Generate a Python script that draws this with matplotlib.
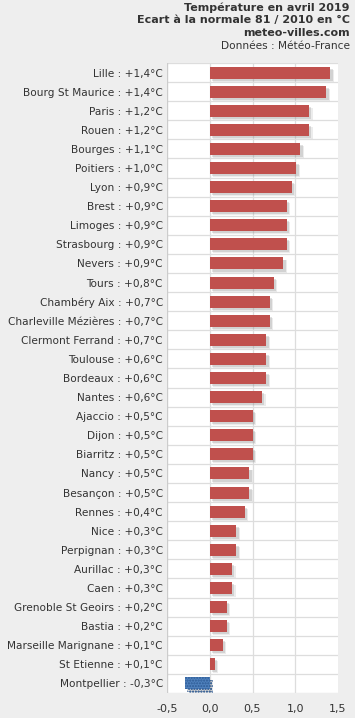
import matplotlib.pyplot as plt
import matplotlib.patheffects as pe

# Données
villes = ['Lille', 'Bourg St Maurice', 'Paris', 'Rouen', 'Bourges', 'Poitiers',
          'Lyon', 'Brest', 'Limoges', 'Strasbourg', 'Nevers', 'Tours',
          'Chambéry Aix', 'Charleville Mézières', 'Clermont Ferrand', 'Toulouse',
          'Bordeaux', 'Nantes', 'Ajaccio', 'Dijon', 'Biarritz', 'Nancy',
          'Besançon', 'Rennes', 'Nice', 'Perpignan', 'Aurillac', 'Caen',
          'Grenoble St Geoirs', 'Bastia', 'Marseille Marignane', 'St Etienne',
          'Montpellier']
ecarts = [1.41, 1.36, 1.16, 1.16, 1.06, 1.01, 0.96, 0.90, 0.90, 0.90, 0.86,
          0.75, 0.70, 0.70, 0.66, 0.66, 0.66, 0.61, 0.50, 0.50, 0.50, 0.46,
          0.46, 0.41, 0.31, 0.31, 0.26, 0.26, 0.20, 0.20, 0.15, 0.06, -0.29]
ecarts_arrondis = [1.4, 1.4, 1.2, 1.2, 1.1, 1.0, 0.9, 0.9, 0.9, 0.9, 0.9,
                   0.8, 0.7, 0.7, 0.7, 0.6, 0.6, 0.6, 0.5, 0.5, 0.5, 0.5,
                   0.5, 0.4, 0.3, 0.3, 0.3, 0.3, 0.2, 0.2, 0.1, 0.1, -0.3]
ticks = [-0.5, 0.0, 0.5, 1.0, 1.5]

fond = '#eeeeee'
rouge = '#c0504d'
bleu = '#4f81bd'
texte = '#333333'

fig = plt.figure(figsize=(3.55, 7.18), dpi=100, facecolor=fond)
ax = fig.add_axes([167 / 355, 1 - 693 / 718, 171 / 355, 630 / 718])
ax.set_facecolor('white')

n = len(villes)
y = list(range(n))
colors = [rouge if v >= 0 else bleu for v in ecarts]
bars = ax.barh(y, ecarts, height=0.63, color=colors, linewidth=0, zorder=3)
# ombre douce à droite et en bas
ombre = [pe.SimplePatchShadow(offset=(2.6, -2.2), shadow_rgbFace='#999999', alpha=0.18),
         pe.SimplePatchShadow(offset=(1.8, -1.5), shadow_rgbFace='#888888', alpha=0.25),
         pe.Normal()]
for b, v in zip(bars, ecarts):
    b.set_path_effects(ombre)
    if v < 0:
        b.set_hatch('......')
        b.set_edgecolor('#2d5a94')

ax.set_ylim(n - 0.5, -0.5)
ax.set_xlim(-0.5, 1.5)

# lignes horizontales entre les villes
for i in range(n + 1):
    ax.axhline(i - 0.5, color='#dddddd', lw=0.9, zorder=1)
for t in ticks[1:-1]:
    ax.axvline(t, color='#dddddd', lw=0.9, zorder=1)
ax.axvline(-0.5, color='#cccccc', lw=1.0, zorder=1)

for s in ax.spines.values():
    s.set_visible(False)

ax.set_xticks(ticks)
ax.set_xticklabels([('%.1f' % t).replace('.', ',') for t in ticks], fontsize=8, color=texte)
ax.tick_params(axis='x', length=0, pad=8)

labels = []
for v, a in zip(villes, ecarts_arrondis):
    s = ('%+.1f' % a).replace('.', ',')
    labels.append(v + ' : ' + s + '°C')
ax.set_yticks(y)
ax.set_yticklabels(labels, fontsize=7.6, color=texte)
ax.tick_params(axis='y', length=0, pad=3)

# titre
fig.text(350 / 355, 1 - 8 / 718, 'Température en avril 2019', ha='right', va='center',
         fontsize=8, fontweight='bold', color=texte)
fig.text(350 / 355, 1 - 20 / 718, 'Ecart à la normale 81 / 2010 en °C', ha='right', va='center',
         fontsize=8, fontweight='bold', color=texte)
fig.text(350 / 355, 1 - 33 / 718, 'meteo-villes.com', ha='right', va='center',
         fontsize=8, fontweight='bold', color=texte)
fig.text(350 / 355, 1 - 46 / 718, 'Données : Météo-France', ha='right', va='center',
         fontsize=7.6, color=texte)

fig.savefig('out.png', dpi=100, facecolor=fond)
